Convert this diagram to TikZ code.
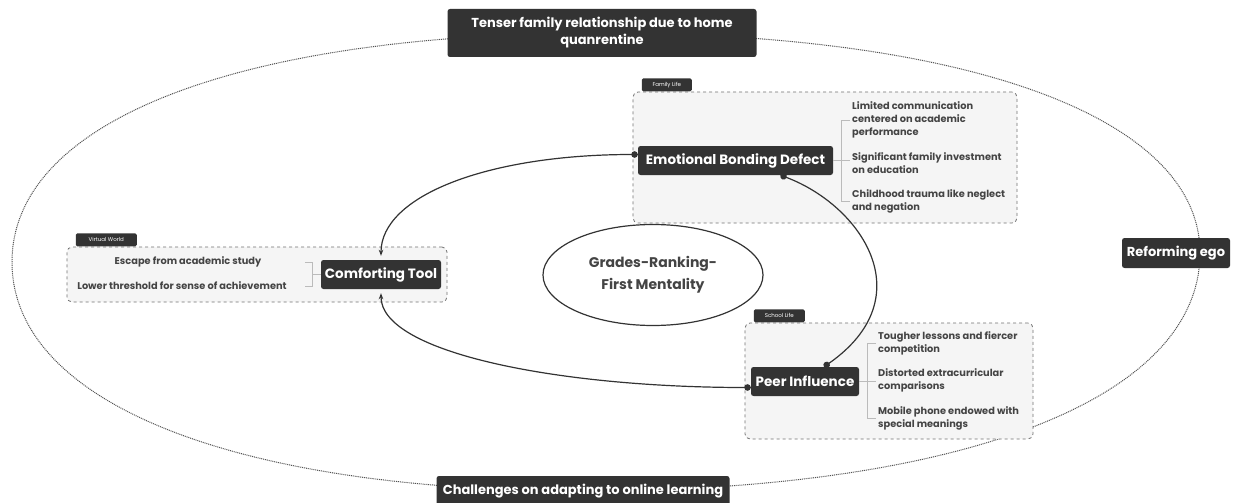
\documentclass[tikz,border=0pt]{standalone}
\usepackage{fontspec}
\setmainfont{Poppins}
\usetikzlibrary{arrows.meta, positioning, shapes.geometric, backgrounds}

\definecolor{ink}{HTML}{333333}
\definecolor{leafgray}{HTML}{444444}
\definecolor{zonefill}{HTML}{F5F5F5}
\definecolor{bracegray}{HTML}{BBBBBB}

\begin{document}
\begin{tikzpicture}[x=1pt, y=-1pt,
  topic/.style={fill=ink, text=white, rounded corners=2.5pt, inner sep=0pt,
                font=\fontsize{13.5}{17}\selectfont\bfseries, align=center, minimum height=29pt},
  leaf/.style={text=leafgray, font=\fontsize{9.8}{13}\selectfont\bfseries, align=left,
               inner sep=0pt, anchor=west},
  zone/.style={draw=ink!70, dashed, fill=zonefill, rounded corners=5pt, inner sep=0pt, line width=0.8pt},
  tab/.style={fill=ink, text=white, font=\fontsize{5.5}{7}\selectfont, rounded corners=1.5pt,
              inner sep=0pt, minimum height=13pt, anchor=south west},
  brace/.style={draw=bracegray, line width=0.8pt},
  arr/.style={draw=ink, line width=1.2pt, {Circle[length=6.5pt]}-{Stealth[length=6pt, width=4.5pt]}},
  link/.style={draw=ink, line width=1.2pt, {Circle[length=6.5pt]}-{Circle[length=6.5pt]}}]
\useasboundingbox (0,0) rectangle (1235,503);

% zones
\node[zone, minimum width=384, minimum height=131] (famzone) at (825,157.5) {};
\node[tab, minimum width=50] (famtab) at ([xshift=9]famzone.north west) {Family Life};
\node[zone, minimum width=380, minimum height=55] (vwzone) at (257,274.5) {};
\node[tab, minimum width=61] (vwtab) at ([xshift=9]vwzone.north west) {Virtual World};
\node[zone, minimum width=288, minimum height=116] (schzone) at (889,381) {};
\node[tab, minimum width=51] (schtab) at ([xshift=9]schzone.north west) {School Life};

% outer ring
\node[topic, minimum width=309, minimum height=48, font=\fontsize{13}{17}\selectfont\bfseries] (strain) at (602,33)
  {Tenser family relationship due to home\\quanrentine};
\node[topic, minimum width=293, minimum height=30, font=\fontsize{13}{17}\selectfont\bfseries] (online) at (583,491)
  {Challenges on adapting to online learning};
\node[topic, minimum width=108, minimum height=30, font=\fontsize{13}{17}\selectfont\bfseries] (ego) at (1176,253) {Reforming ego};
\coordinate (ringw) at (12,262);
\coordinate (ringe) at (1200,253);
\begin{scope}[on background layer]
\draw[ink!85, line width=1pt, dash pattern=on 1pt off 0.9pt]
  (ringw) .. controls +(0,-142) and +(-362,0) .. (strain.center)
  .. controls +(365,0) and +(0,-136) .. (ringe)
  .. controls +(0,147) and +(376,0) .. (online.center)
  .. controls +(-348,0) and +(0,141) .. (ringw);
\end{scope}

% core
\node[ellipse, draw=ink, line width=1.2pt, minimum width=220, minimum height=101,
      text=leafgray, font=\fontsize{14}{22}\selectfont\bfseries, align=center] (core) at (653,275)
  {Grades-Ranking-\\First Mentality};

% family life
\node[topic, minimum width=195] (ebd) at (735.5,160.5) {Emotional Bonding Defect};
\node[leaf] (fam1) at (852,120) {Limited communication\\centered on academic\\performance};
\node[leaf] (fam2) at (852,163.5) {Significant family investment\\on education};
\node[leaf] (fam3) at (852,201) {Childhood trauma like neglect\\and negation};
\draw[brace] (ebd.east) -- ++(8,0) coordinate (famfork) -- ++(9,0);
\coordinate (famtop) at (famfork |- fam1.west);
\coordinate (fambot) at (famfork |- fam3.west);
\draw[brace] (famtop) ++(9,0) -- (famtop) -- (fambot) -- ++(9,0);

% virtual world
\node[topic, minimum width=120] (tool) at (381,274.5) {Comforting Tool};
\node[leaf, anchor=center] (vw1) at (188,262) {Escape from academic study};
\node[leaf, anchor=center] (vw2) at (182,286) {Lower threshold for sense of achievement};
\draw[brace] (tool.west) -- ++(-8,0) coordinate (vwfork);
\coordinate (vwtop) at (vwfork |- vw1.east);
\coordinate (vwbot) at (vwfork |- vw2.east);
\draw[brace] (vwtop) ++(-8,0) -- (vwtop) -- (vwbot) -- ++(-8,0);

% school life
\node[topic, minimum width=108] (peer) at (805,381.5) {Peer Influence};
\node[leaf] (sch1) at (878,343.5) {Tougher lessons and fiercer\\competition};
\node[leaf] (sch2) at (878,380.5) {Distorted extracurricular\\comparisons};
\node[leaf] (sch3) at (878,418) {Mobile phone endowed with\\special meanings};
\draw[brace] (peer.east) -- ++(8,0) coordinate (schfork) -- ++(9,0);
\coordinate (schtop) at (schfork |- sch1.west);
\coordinate (schbot) at (schfork |- sch3.west);
\draw[brace] (schtop) ++(9,0) -- (schtop) -- (schbot) -- ++(9,0);

% relations
\draw[arr] ([yshift=6]ebd.west) .. controls +(-150,0) and +(0,-60) .. ([yshift=4]tool.north);
\draw[link] ([xshift=45]ebd.south) .. controls +(80,30) and +(100,-70) .. ([xshift=19]peer.north);
\draw[arr] ([yshift=-6]peer.west) .. controls +(-190,0) and +(0,60) .. ([yshift=-4]tool.south);
\end{tikzpicture}
\end{document}
